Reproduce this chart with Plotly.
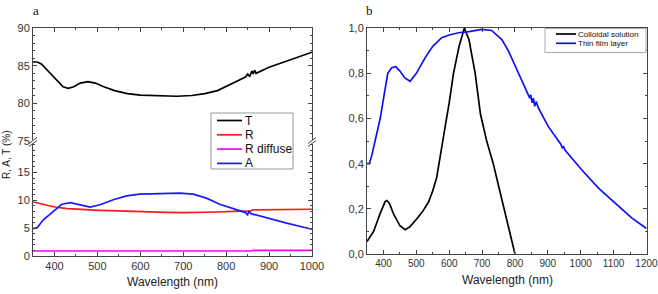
import plotly.graph_objects as go

W, H = 658, 294

# ---------- Panel a data ----------
t_wl = [350, 360, 370, 380, 400, 420, 432, 445, 460, 478, 495, 515, 540, 570, 600, 650, 685, 720, 750, 780, 800,
        820, 845, 850, 855, 860, 863, 866, 870, 900, 950, 1000]
t_val = [85.5, 85.5, 85.2, 84.6, 83.3, 82.2, 82.0, 82.2, 82.7, 82.9, 82.7, 82.2, 81.7, 81.3, 81.1, 81.0, 80.95, 81.05,
         81.3, 81.7, 82.3, 82.8, 83.5, 83.9, 83.6, 84.3, 83.9, 84.4, 84.0, 84.8, 85.8, 86.8]

r_wl = [350, 375, 400, 430, 470, 506, 550, 584, 620, 660, 700, 738, 780, 817, 848, 858, 862, 900, 950, 1000]
r_val = [9.7, 9.2, 8.8, 8.5, 8.3, 8.2, 8.1, 8.0, 7.95, 7.85, 7.8, 7.8, 7.9, 8.0, 8.1, 8.1, 8.3, 8.35, 8.4, 8.4]

rd_wl = [350, 500, 700, 858, 862, 1000]
rd_val = [0.9, 0.9, 0.85, 0.9, 1.0, 1.0]

a_wl = [350, 360, 374, 400, 417, 437, 459, 483, 506, 537, 568, 599, 646, 692, 723, 754, 785, 817, 845, 850, 853,
        858, 895, 941, 1000]
a_val = [4.9, 5.1, 6.5, 8.1, 9.3, 9.6, 9.2, 8.8, 9.2, 10.1, 10.8, 11.1, 11.2, 11.3, 11.1, 10.4, 9.3, 8.5, 7.8, 7.4,
         8.0, 7.6, 6.8, 5.9, 4.8]

# ---------- Panel b data ----------
col_wl = [350, 354, 370, 390, 405, 410, 418, 430, 450, 466, 480, 501, 520, 537, 550, 562, 572, 577, 586, 600, 613,
          630, 646, 660, 679, 695, 707, 714, 734, 750, 766, 785, 798, 800]
col_val = [0.055, 0.063, 0.10, 0.18, 0.232, 0.237, 0.225, 0.18, 0.125, 0.108, 0.12, 0.155, 0.19, 0.23, 0.28, 0.34,
           0.42, 0.47, 0.55, 0.67, 0.80, 0.92, 1.0, 0.95, 0.80, 0.62, 0.55, 0.50, 0.40, 0.30, 0.20, 0.08, 0.0, 0.0]

film_wl = [350, 357, 365, 375, 390, 413, 425, 437, 450, 465, 481, 500, 527, 550, 577, 600, 628, 660, 699, 729, 750,
           760, 780, 800, 820, 840, 845, 848, 852, 856, 860, 865, 870, 902, 940, 944, 948, 952, 1003, 1054, 1104,
           1155, 1200]
film_val = [0.40, 0.40, 0.44, 0.50, 0.60, 0.80, 0.825, 0.83, 0.81, 0.78, 0.765, 0.80, 0.87, 0.92, 0.958, 0.97, 0.98,
            0.985, 0.995, 0.99, 0.965, 0.95, 0.90, 0.835, 0.77, 0.71, 0.69, 0.705, 0.67, 0.69, 0.655, 0.675, 0.65,
            0.563, 0.485, 0.47, 0.475, 0.46, 0.373, 0.292, 0.226, 0.16, 0.113]

b_ticks = [0, 0.2, 0.4, 0.6, 0.8, 1.0]
b_ticktext = ["0,0", "0,2", "0,4", "0,6", "0,8", "1,0"]
b_xticks = [400, 500, 600, 700, 800, 900, 1000, 1100, 1200]


def px(x):
    return x / W


def py(y):
    return 1 - y / H


lw = 1.7
series = [
    # name, x, y, color, xaxis, yaxis, legend group
    ("T", t_wl, t_val, "black", "x2", "y", "a"),
    ("R", r_wl, r_val, "#ff1a1a", "x", "y2", "a"),
    ("R diffuse", rd_wl, rd_val, "#ff00ff", "x", "y2", "a"),
    ("A", a_wl, a_val, "#1a1aff", "x", "y2", "a"),
    ("Colloidal solution", col_wl, col_val, "black", "x3", "y3", "b"),
    ("Thin film layer", film_wl, film_val, "#1010ee", "x3", "y3", "b"),
]

fig = go.Figure()
for name, xs, ys, col, xa, ya, grp in series:
    fig.add_trace(go.Scatter(x=xs, y=ys, mode="lines", name=name, line=dict(color=col, width=lw),
                             xaxis=xa, yaxis=ya, showlegend=False))

tickfont = dict(family="Liberation Sans, Arial", size=11, color="#333")
axcommon = dict(showline=True, linecolor="#444", linewidth=1, ticks="inside", ticklen=4, tickcolor="#444",
                showgrid=False, zeroline=False, automargin=False, ticklabeloverflow="allow")
minor_x = dict(ticks="inside", dtick=50, ticklen=2, tickcolor="#444")

xa_dom = [px(33), px(312)]
xb_dom = [px(367), px(646.5)]

fig.update_layout(
    width=W, height=H, margin=dict(l=0, r=0, t=0, b=0),
    paper_bgcolor="white", plot_bgcolor="white", showlegend=False,
    xaxis=dict(domain=xa_dom, anchor="y2", range=[349.9, 1000.1], dtick=100, tick0=0, minor=minor_x,
               tickfont=tickfont, **axcommon),
    xaxis2=dict(domain=xa_dom, anchor="y", range=[349.9, 1000.1], dtick=100, tick0=0, side="top",
                showticklabels=False, minor=minor_x, tickfont=tickfont, **axcommon),
    yaxis=dict(domain=[py(141), py(28)], anchor="x2", range=[75, 90.02], dtick=5, mirror="allticks",
               minor=dict(ticks="inside", dtick=1, ticklen=2, tickcolor="#444"), tickfont=tickfont, **axcommon),
    yaxis2=dict(domain=[py(256), py(143)], anchor="x", range=[0, 20.3], tickvals=[0, 5, 10, 15], mirror="allticks",
                minor=dict(ticks="inside", dtick=1, ticklen=2, tickcolor="#444"), tickfont=tickfont, **axcommon),
    xaxis3=dict(domain=xb_dom, anchor="y3", range=[349.9, 1200.1], tickvals=b_xticks, mirror="allticks",
                minor=minor_x, tickfont=dict(family="Liberation Sans, Arial", size=10, color="#333"), **axcommon),
    yaxis3=dict(domain=[py(254), py(28)], anchor="x3", range=[0, 1.001], tickvals=b_ticks, ticktext=b_ticktext,
                mirror="allticks", minor=dict(ticks="inside", dtick=0.1, ticklen=2, tickcolor="#444"),
                tickfont=tickfont, **axcommon),
)

annots = [
    dict(text="a", x=px(36), y=py(10), font=dict(family="Liberation Serif, Times New Roman", size=13, color="#111")),
    dict(text="b", x=px(369), y=py(10), font=dict(family="Liberation Serif, Times New Roman", size=13, color="#111")),
    dict(text="Wavelength (nm)", x=px(172), y=py(282), font=dict(family="Liberation Sans, Arial", size=12, color="#222")),
    dict(text="Wavelength (nm)", x=px(507), y=py(280), font=dict(family="Liberation Sans, Arial", size=12, color="#222")),
    dict(text="R, A, T (%)", x=px(6), y=py(155), textangle=-90,
         font=dict(family="Liberation Sans, Arial", size=10, color="#222")),
]
for a in annots:
    fig.add_annotation(xref="paper", yref="paper", showarrow=False, xanchor="center", yanchor="middle", **a)

# axis break marks
for xb in (33, 312):
    fig.add_shape(type="rect", xref="paper", yref="paper", x0=px(xb - 1), x1=px(xb + 1), y0=py(144), y1=py(140),
                  fillcolor="white", line=dict(width=0))
    for dy in (-1.5, 1.5):
        fig.add_shape(type="line", xref="paper", yref="paper", x0=px(xb - 4), y0=py(145 + dy), x1=px(xb + 4),
                      y1=py(139 + dy), line=dict(color="#444", width=1))

# legends (drawn manually for compact spacing)
def draw_legend(box, entries, line_x, text_x, y0, dy, fsize, border):
    x0b, y0b, x1b, y1b = box
    fig.add_shape(type="rect", xref="paper", yref="paper", x0=px(x0b), x1=px(x1b), y0=py(y1b), y1=py(y0b),
                  fillcolor="white", line=dict(color=border, width=1), layer="above")
    for i, (name, col) in enumerate(entries):
        yy = y0 + i * dy
        fig.add_shape(type="line", xref="paper", yref="paper", x0=px(line_x[0]), x1=px(line_x[1]),
                      y0=py(yy), y1=py(yy), line=dict(color=col, width=lw), layer="above")
        fig.add_annotation(xref="paper", yref="paper", x=px(text_x), y=py(yy), text=name, showarrow=False,
                           xanchor="left", yanchor="middle",
                           font=dict(family="Liberation Sans, Arial", size=fsize, color="#111"))


draw_legend((211, 113, 293, 169), [(s[0], s[3]) for s in series if s[6] == "a"], (217, 242), 242.5, 120.5, 14.3,
            12, "#999")
draw_legend((545, 28.5, 646, 52.5), [(s[0], s[3]) for s in series if s[6] == "b"], (556, 576), 576, 34, 9.3,
            8, "#aaa")

fig.write_html("out.html")
